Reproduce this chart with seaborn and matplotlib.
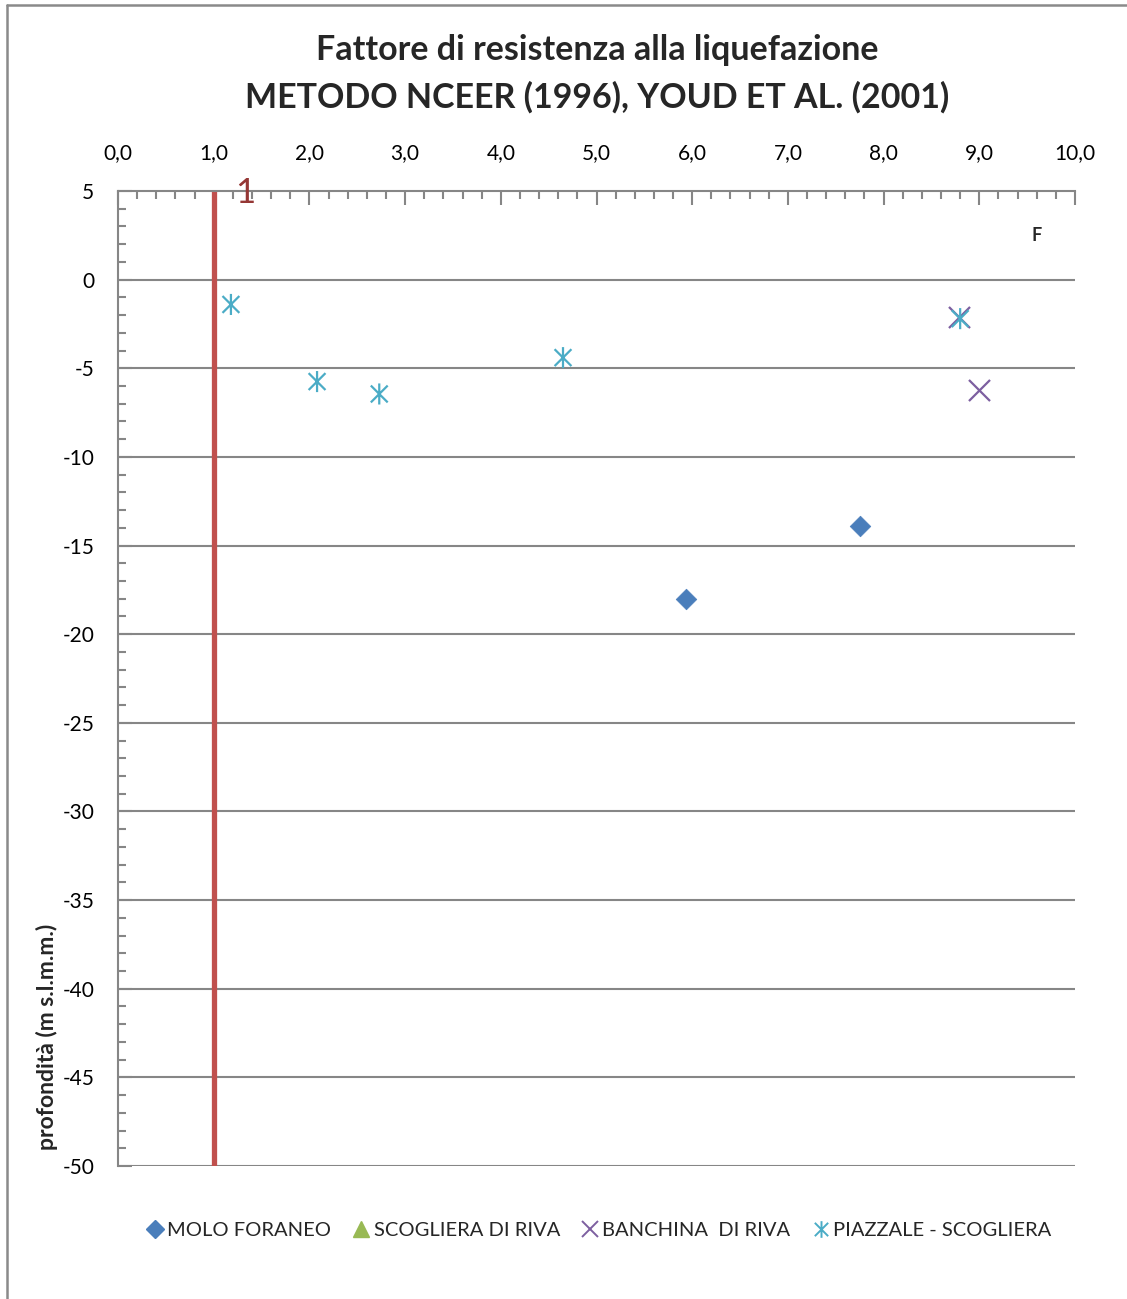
import matplotlib
matplotlib.use("Agg")
import matplotlib.pyplot as plt
from matplotlib.path import Path
from matplotlib.lines import Line2D
from matplotlib.ticker import MultipleLocator, FuncFormatter
import seaborn as sns
import pandas as pd

# Safety factor F versus depth for each site
molo_f = [5.94, 7.75]
molo_z = [-18.0, -13.9]

scogliera_f = []
scogliera_z = []

banchina_f = [8.79, 9.0]
banchina_z = [-2.1, -6.2]

piazzale_f = [1.18, 2.08, 2.73, 4.65, 8.80]
piazzale_z = [-1.4, -5.75, -6.45, -4.4, -2.2]

series_names = ["MOLO FORANEO", "SCOGLIERA DI RIVA", "BANCHINA  DI RIVA", "PIAZZALE - SCOGLIERA"]
threshold_f = 1.0

title_lines = ["Fattore di resistenza alla liquefazione",
               "METODO NCEER (1996), YOUD ET AL. (2001)"]
ylabel_text = "profondità (m s.l.m.m.)"

sns.set_theme(style="white")
plt.rcParams["font.family"] = ["Lato", "DejaVu Sans"]

W, H = 1127, 1299
fig = plt.figure(figsize=(W / 100, H / 100), dpi=100)
ax = fig.add_axes([118 / W, 1 - 1166 / H, (1075 - 118) / W, (1166 - 191) / H])

grid_c = "#868686"

# horizontal gridlines
for yv in range(-50, 5, 5):
    ax.axhline(yv, color=grid_c, lw=1.5, zorder=1)

# threshold line F = 1
ax.axvline(threshold_f, color="#c0504d", lw=3.8, zorder=2)
ax.text(threshold_f + 0.22, 4.9, "1", color="#953735", fontsize=25,
        ha="left", va="center", zorder=3)

# asterisk marker: vertical bar plus an X
ast = Path([(0, -1), (0, 1), (-0.8, -0.8), (0.8, 0.8), (-0.8, 0.8), (0.8, -0.8)],
           [Path.MOVETO, Path.LINETO, Path.MOVETO, Path.LINETO, Path.MOVETO, Path.LINETO])

df_m = pd.DataFrame({"F": molo_f, "z": molo_z})
df_b = pd.DataFrame({"F": banchina_f, "z": banchina_z})
df_p = pd.DataFrame({"F": piazzale_f, "z": piazzale_z})

sns.scatterplot(data=df_m, x="F", y="z", ax=ax, marker="D", s=110,
                color="#4a7ebb", edgecolor="#4a7ebb", linewidth=0.5, zorder=4)
ax.scatter(scogliera_f, scogliera_z, marker="^", s=110, color="#98b954", zorder=4)
sns.scatterplot(data=df_b, x="F", y="z", ax=ax, marker="x", s=230,
                color="#7d5fa0", linewidth=1.6, zorder=4)
sns.scatterplot(data=df_p, x="F", y="z", ax=ax, marker=ast, s=230,
                facecolor="none", edgecolor="#4bacc6", linewidth=1.6, zorder=5)

ax.set_xlim(0, 10)
ax.set_ylim(-50, 5)
ax.set_xlabel("")
ax.set_ylabel("")

ax.xaxis.set_major_locator(MultipleLocator(1))
ax.xaxis.set_minor_locator(MultipleLocator(0.2))
ax.yaxis.set_major_locator(MultipleLocator(5))
ax.yaxis.set_minor_locator(MultipleLocator(1))
ax.xaxis.set_major_formatter(FuncFormatter(lambda v, p: f"{v:.1f}".replace(".", ",")))
ax.yaxis.set_major_formatter(FuncFormatter(lambda v, p: f"{int(round(v))}"))

ax.xaxis.tick_top()
ax.tick_params(axis="x", which="both", direction="in", top=True, bottom=False,
               colors=grid_c, width=1.5, labelcolor="black", labelsize=15, pad=20)
ax.tick_params(axis="x", which="major", length=10)
ax.tick_params(axis="x", which="minor", length=6)
ax.tick_params(axis="y", which="both", direction="in", left=True,
               colors=grid_c, width=1.5, labelcolor="black", labelsize=15, pad=17)
ax.tick_params(axis="y", which="major", length=10)
ax.tick_params(axis="y", which="minor", length=6)

for side in ["right", "bottom"]:
    ax.spines[side].set_visible(False)
for side in ["top", "left"]:
    ax.spines[side].set_color(grid_c)
    ax.spines[side].set_linewidth(1.5)

ax.text(9.6, 2.5, "F", fontsize=13, fontweight="bold", ha="center", va="center")

# title and axis label
fig.text(597 / W, 1 - 50 / H, title_lines[0], ha="center", va="center",
         fontsize=24.5, fontweight="bold")
fig.text(597 / W, 1 - 97 / H, title_lines[1], ha="center", va="center",
         fontsize=24.5, fontweight="bold")
fig.text(47 / W, 1 - 1037 / H, ylabel_text, rotation=90, ha="center", va="center",
         fontsize=16.5, fontweight="bold")

# legend
handles = [
    Line2D([], [], ls="none", marker="D", ms=9, color="#4a7ebb"),
    Line2D([], [], ls="none", marker="^", ms=11, color="#98b954"),
    Line2D([], [], ls="none", marker="x", ms=12, mew=1.4, color="#7d5fa0"),
    Line2D([], [], ls="none", marker=ast, ms=12, mew=1.4, color="#4bacc6"),
]
fig.legend(handles, series_names, loc="center", bbox_to_anchor=(598 / W, 1 - 1230 / H),
           ncol=4, frameon=False, fontsize=14.5, handletextpad=0.1,
           columnspacing=1.0, handlelength=1.0)

# outer frame
fig.add_artist(Line2D([7 / W, 7 / W], [0, 1 - 5 / H], color="#8a8a8a", lw=1.8,
                      transform=fig.transFigure))
fig.add_artist(Line2D([7 / W, 1], [1 - 5 / H, 1 - 5 / H], color="#8a8a8a", lw=1.8,
                      transform=fig.transFigure))

fig.savefig("out.png", dpi=100, facecolor="white")
